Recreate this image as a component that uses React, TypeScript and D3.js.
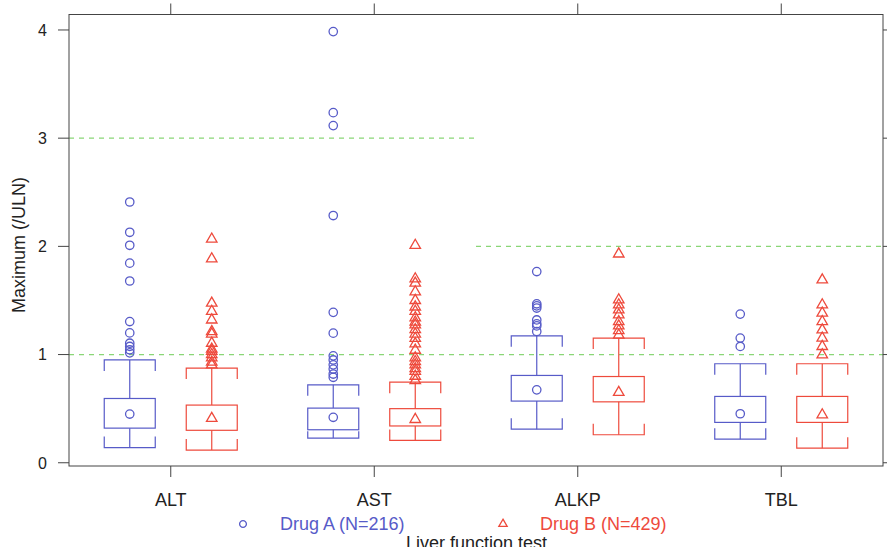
import React from "react";
import * as d3 from "d3";

const categories = ["ALT", "AST", "ALKP", "TBL"];
const drugs = ["Drug A (N=216)", "Drug B (N=429)"];

// [lower whisker, Q1, median, Q3, upper whisker]
const drugAStats = [
  [0.14, 0.32, 0.45, 0.594, 0.95],
  [0.228, 0.305, 0.42, 0.505, 0.72],
  [0.31, 0.57, 0.674, 0.807, 1.173],
  [0.218, 0.373, 0.453, 0.613, 0.915],
];
const drugBStats = [
  [0.117, 0.3, 0.41, 0.533, 0.875],
  [0.206, 0.34, 0.4, 0.5, 0.745],
  [0.259, 0.563, 0.65, 0.797, 1.152],
  [0.135, 0.373, 0.443, 0.613, 0.915],
];

const drugAOutliers = [
  [2.41, 2.13, 2.01, 1.845, 1.68, 1.305, 1.2, 1.105, 1.075, 1.044, 1.016],
  [3.985, 3.236, 3.116, 2.285, 1.39, 1.198, 0.988, 0.95, 0.905, 0.866, 0.82, 0.79],
  [1.767, 1.469, 1.45, 1.43, 1.32, 1.284, 1.265, 1.213],
  [1.374, 1.152, 1.075],
];
const drugBOutliers = [
  [2.067, 1.885, 1.475, 1.4, 1.32, 1.213, 1.19, 1.105, 1.05, 1.03, 1.0, 0.97, 0.93, 0.905],
  [2.01, 1.7, 1.66, 1.58, 1.5, 1.44, 1.4, 1.34, 1.3, 1.275, 1.23, 1.19, 1.15, 1.1, 1.04, 0.97, 0.935, 0.905, 0.87, 0.845, 0.8, 0.76],
  [1.93, 1.506, 1.46, 1.413, 1.367, 1.305, 1.265, 1.222, 1.18],
  [1.69, 1.46, 1.383, 1.305, 1.228, 1.152, 1.075, 0.998],
];

const upperLimits = [3, 3, 2, 2];
const commonLimit = 1;
const yTicks = [0, 1, 2, 3, 4];

const W = 887;
const H = 547;
const left = 69;
const right = 883;
const top = 14.5;
const bottom = 466;

const BLUE = "#575bc8";
const RED = "#ee4a3c";
const GREEN = "#8ad677";
const AXIS = "#444";
const FONT = "'Liberation Sans', Arial, Helvetica, sans-serif";

export default function App() {
  const x = d3.scaleBand<string>().domain(categories).range([left, right]).padding(0);
  const bw = x.bandwidth();
  const inner = d3.scalePoint<string>().domain(drugs).range([bw / 2 - 41, bw / 2 + 41]);
  const y = d3.scaleLinear().domain([-0.03, 4.143]).range([bottom, top]);

  const boxW = 51;
  const capMax = 11;
  const circlePath = d3.symbol().type(d3.symbolCircle).size(Math.PI * 4.2 * 4.2)();
  const triPath = d3.symbol().type(d3.symbolTriangle).size(48)();
  const legCircle = d3.symbol().type(d3.symbolCircle).size(Math.PI * 3.4 * 3.4)();
  const legTri = d3.symbol().type(d3.symbolTriangle).size(30)();

  // merge contiguous categories that share the same limit
  const segs: { v: number; x0: number; x1: number }[] = [];
  categories.forEach((c, i) => {
    const v = upperLimits[i];
    const last = segs[segs.length - 1];
    if (last && last.v === v) last.x1 = (x(c) as number) + bw;
    else segs.push({ v, x0: x(c) as number, x1: (x(c) as number) + bw });
  });

  const series = [
    { name: drugs[0], stats: drugAStats, out: drugAOutliers, color: BLUE, sym: circlePath },
    { name: drugs[1], stats: drugBStats, out: drugBOutliers, color: RED, sym: triPath },
  ];

  return (
    <svg width={W} height={H} style={{ position: "absolute", left: 0, top: 0, background: "#fff" }} fontFamily={FONT}>
      {/* reference lines */}
      <g stroke={GREEN} strokeWidth={1.2} strokeDasharray="5 5" fill="none">
        <line x1={left} x2={right} y1={y(commonLimit)} y2={y(commonLimit)} />
        {segs.map((s, i) => (
          <line key={i} x1={s.x0} x2={s.x1} y1={y(s.v)} y2={y(s.v)} />
        ))}
      </g>

      {/* boxes */}
      {series.map((s) =>
        categories.map((c, i) => {
          const cx = (x(c) as number) + (inner(s.name) as number);
          const [lo, q1, med, q3, hi] = s.stats[i];
          const x0 = cx - boxW / 2;
          const x1 = cx + boxW / 2;
          const capHi = Math.min(capMax, y(q3) - y(hi) - 1.5);
          const capLo = Math.min(capMax, y(lo) - y(q1) - 1.5);
          return (
            <g key={s.name + c} stroke={s.color} strokeWidth={1.2} fill="none">
              <rect x={x0} y={y(q3)} width={boxW} height={y(q1) - y(q3)} />
              <line x1={cx} x2={cx} y1={y(q3)} y2={y(hi)} />
              <line x1={cx} x2={cx} y1={y(q1)} y2={y(lo)} />
              <path d={`M${x0},${y(hi) + capHi}V${y(hi)}H${x1}V${y(hi) + capHi}`} />
              <path d={`M${x0},${y(lo) - capLo}V${y(lo)}H${x1}V${y(lo) - capLo}`} />
              <path d={s.sym as string} transform={`translate(${cx},${y(med)})`} strokeWidth={1.3} />
              {s.out[i].map((v, j) => (
                <path key={j} d={s.sym as string} transform={`translate(${cx},${y(v)})`} strokeWidth={1.3} />
              ))}
            </g>
          );
        })
      )}

      {/* frame */}
      <rect x={left} y={top} width={right - left} height={bottom - top} fill="none" stroke={AXIS} strokeWidth={1} />

      {/* ticks */}
      <g stroke={AXIS} strokeWidth={1}>
        {yTicks.map((t) => (
          <g key={t}>
            <line x1={left - 11} x2={left} y1={y(t)} y2={y(t)} />
            <line x1={right} x2={right + 11} y1={y(t)} y2={y(t)} />
          </g>
        ))}
        {categories.map((c) => {
          const cx = (x(c) as number) + bw / 2;
          return (
            <g key={c}>
              <line x1={cx} x2={cx} y1={bottom} y2={bottom + 11} />
              <line x1={cx} x2={cx} y1={top - 11} y2={top} />
            </g>
          );
        })}
      </g>
      {yTicks.map((t) => (
        <text key={t} x={47} y={y(t)} dy="0.36em" textAnchor="end" fontSize={16} fill="#222">
          {t}
        </text>
      ))}
      {categories.map((c) => (
        <text key={c} x={(x(c) as number) + bw / 2} y={506} textAnchor="middle" fontSize={18} fill="#222">
          {c}
        </text>
      ))}

      <text transform={`translate(25,245) rotate(-90)`} textAnchor="middle" fontSize={18} fill="#222">
        Maximum (/ULN)
      </text>

      {/* legend */}
      <path d={legCircle as string} transform="translate(243,524)" fill="none" stroke={BLUE} strokeWidth={1.3} />
      <text x={280} y={530} fontSize={18} fill={BLUE}>
        {drugs[0]}
      </text>
      <path d={legTri as string} transform="translate(503,524)" fill="none" stroke={RED} strokeWidth={1.3} />
      <text x={540} y={530} fontSize={18} fill={RED}>
        {drugs[1]}
      </text>

      <text x={476.5} y={549} textAnchor="middle" fontSize={18} fill="#222">
        Liver function test
      </text>
    </svg>
  );
}
